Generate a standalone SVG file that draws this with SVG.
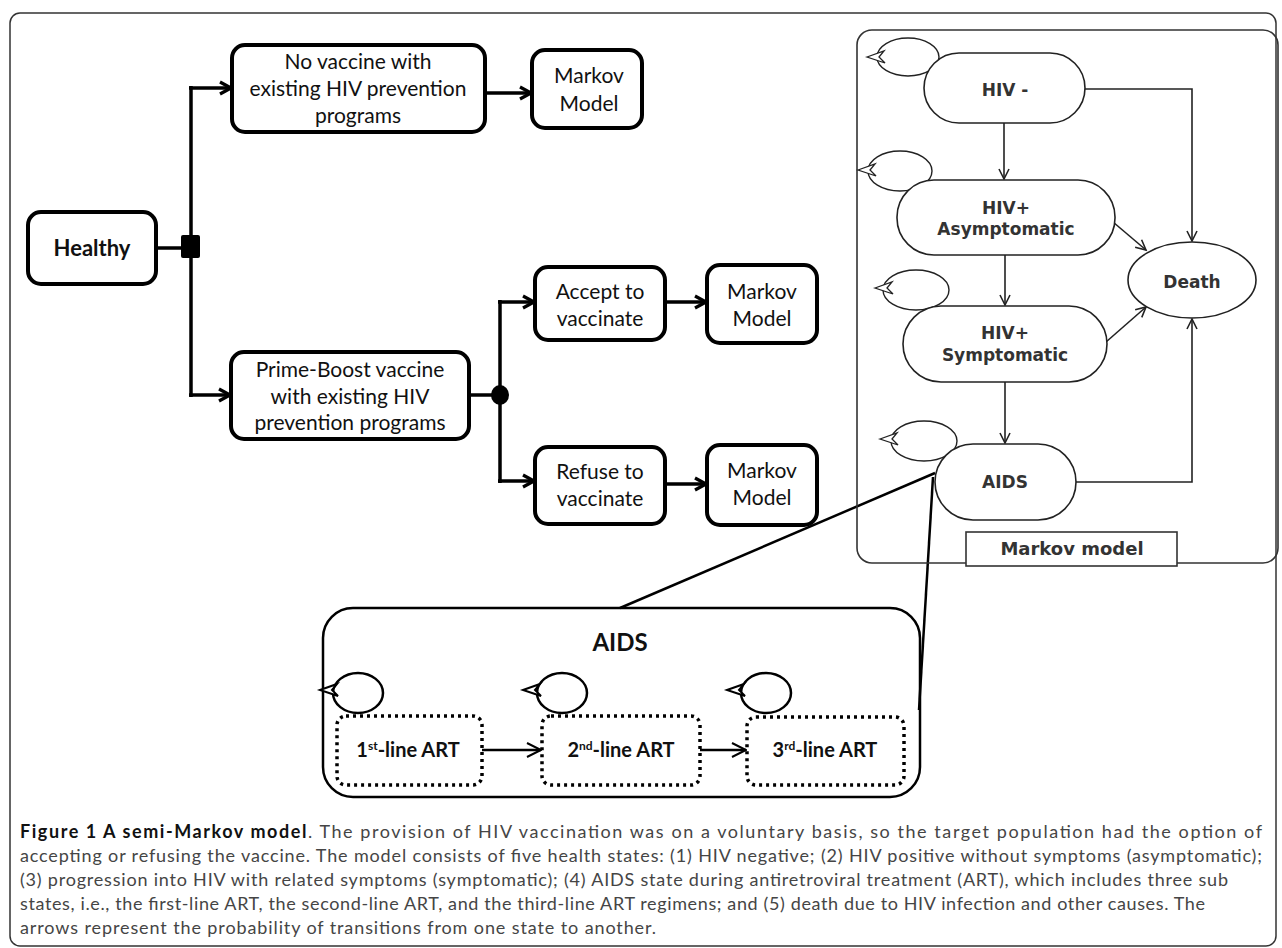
<svg xmlns="http://www.w3.org/2000/svg" width="1282" height="948" viewBox="0 0 1282 948">
<style>
.tb{fill:#fff;stroke:#000;stroke-width:4}
.tt{font-family:Lato,"Liberation Sans",sans-serif;font-size:21px;fill:#111;text-anchor:middle}
.tl{fill:none;stroke:#000;stroke-width:3.5}
.mn{fill:#fff;stroke:#222;stroke-width:1.6}
.mt{font-family:"DejaVu Sans",sans-serif;font-weight:bold;font-size:17px;fill:#333;text-anchor:middle}
.ml{fill:none;stroke:#222;stroke-width:1.6}
.lp{fill:none;stroke:#222;stroke-width:1.4}
.lh{fill:#fff;stroke:#222;stroke-width:1.3}
.sl{fill:none;stroke:#000;stroke-width:2.5}
.sh{fill:#fff;stroke:#000;stroke-width:2}
.db{fill:#fff;stroke:#000;stroke-width:3.5;stroke-dasharray:3 4}
.at{font-family:Lato,"Liberation Sans",sans-serif;font-weight:bold;font-size:20px;fill:#111;text-anchor:middle}
.cap{font-family:Lato,"Liberation Sans",sans-serif;font-size:18px;fill:#454545}
</style>
<defs>
<marker id="aT" markerUnits="userSpaceOnUse" markerWidth="16" markerHeight="18" refX="13" refY="8" orient="auto">
<path d="M2,2 L13,8 L2,14" fill="none" stroke="#000" stroke-width="3.2"/>
</marker>
<marker id="aM" markerUnits="userSpaceOnUse" markerWidth="14" markerHeight="14" refX="11" refY="6" orient="auto">
<path d="M1,1 L11,6 L1,11" fill="none" stroke="#222" stroke-width="1.6"/>
</marker>
<marker id="aS" markerUnits="userSpaceOnUse" markerWidth="18" markerHeight="18" refX="15" refY="8" orient="auto">
<path d="M1,1 L15,8 L1,15" fill="none" stroke="#000" stroke-width="2"/>
</marker>
<path id="lh" d="M0,0 L17,-6 L12,0 L18,6 Z"/>
</defs>
<rect width="1282" height="948" fill="#fff"/>
<rect x="10" y="13" width="1266" height="933" rx="10" fill="none" stroke="#333" stroke-width="1.5"/>

<g id="connectors">
<line class="tl" x1="156" y1="248" x2="182" y2="248"/>
<line class="tl" x1="191" y1="86" x2="191" y2="397"/>
<path class="tl" d="M189,88 H231" marker-end="url(#aT)"/>
<path class="tl" d="M189,395 H230" marker-end="url(#aT)"/>
<path class="tl" d="M485,93 H531" marker-end="url(#aT)"/>
<line class="tl" x1="469" y1="395" x2="500" y2="395"/>
<line class="tl" x1="500" y1="300" x2="500" y2="483"/>
<path class="tl" d="M498,302 H534" marker-end="url(#aT)"/>
<path class="tl" d="M498,481 H534" marker-end="url(#aT)"/>
<path class="tl" d="M665,302 H706" marker-end="url(#aT)"/>
<path class="tl" d="M665,484 H706" marker-end="url(#aT)"/>

<path class="ml" d="M1004,123 V179" marker-end="url(#aM)"/>
<path class="ml" d="M1085,89 H1192 V241" marker-end="url(#aM)"/>
<path class="ml" d="M1005,255 V305" marker-end="url(#aM)"/>
<path class="ml" d="M1113,222 L1146,250" marker-end="url(#aM)"/>
<path class="ml" d="M1106,342 L1146,307" marker-end="url(#aM)"/>
<path class="ml" d="M1005,382 V443" marker-end="url(#aM)"/>
<path class="ml" d="M1076,482 H1192 V319" marker-end="url(#aM)"/>

<line class="sl" x1="935" y1="473" x2="620" y2="608"/>
<line class="sl" x1="933" y1="477" x2="919" y2="710"/>
<path class="sl" d="M482,750 H541" marker-end="url(#aS)"/>
<path class="sl" d="M700,750 H746" marker-end="url(#aS)"/>
</g>

<g id="healthy">
<rect class="tb" x="28" y="212" width="128" height="72" rx="13"/>
<text class="tt" x="92" y="256" style="font-weight:bold;font-size:22px">Healthy</text>
</g>
<g id="chance1"><rect x="181" y="235" width="19" height="23" rx="2" fill="#000"/></g>
<g id="novaccine">
<rect class="tb" x="232" y="45" width="253" height="87" rx="13"/>
<text class="tt" x="358" y="69">No vaccine with</text>
<text class="tt" x="358" y="96">existing HIV prevention</text>
<text class="tt" x="358" y="123">programs</text>
</g>
<g id="markov1">
<rect class="tb" x="532" y="50" width="110" height="78" rx="13"/>
<text class="tt" x="589" y="83">Markov</text>
<text class="tt" x="589" y="111">Model</text>
</g>
<g id="primeboost">
<rect class="tb" x="231" y="352" width="238" height="87" rx="13"/>
<text class="tt" x="350" y="377">Prime-Boost vaccine</text>
<text class="tt" x="350" y="404">with existing HIV</text>
<text class="tt" x="350" y="430">prevention programs</text>
</g>
<g id="chance2"><ellipse cx="500" cy="395" rx="9" ry="10" fill="#000"/></g>
<g id="accept">
<rect class="tb" x="535" y="267" width="130" height="73" rx="13"/>
<text class="tt" x="600" y="299">Accept to</text>
<text class="tt" x="600" y="326">vaccinate</text>
</g>
<g id="markov2">
<rect class="tb" x="707" y="265" width="110" height="78" rx="13"/>
<text class="tt" x="762" y="299">Markov</text>
<text class="tt" x="762" y="326">Model</text>
</g>
<g id="refuse">
<rect class="tb" x="535" y="447" width="130" height="77" rx="13"/>
<text class="tt" x="600" y="479">Refuse to</text>
<text class="tt" x="600" y="506">vaccinate</text>
</g>
<g id="markov3">
<rect class="tb" x="707" y="445" width="110" height="80" rx="13"/>
<text class="tt" x="762" y="478">Markov</text>
<text class="tt" x="762" y="505">Model</text>
</g>

<g id="markov-panel">
<rect x="857" y="30" width="421" height="533" rx="15" fill="none" stroke="#333" stroke-width="1.6"/>
</g>
<g id="markov-label">
<rect x="966" y="532" width="211" height="34" fill="#fff" stroke="#333" stroke-width="1.6"/>
<text class="mt" x="1072" y="555" style="font-size:18px">Markov model</text>
</g>
<g id="hivneg">
<ellipse class="lp" cx="908" cy="57" rx="31" ry="19"/>
<use href="#lh" class="lh" transform="translate(867,57)"/>
<rect class="mn" x="924" y="53" width="161" height="70" rx="35"/>
<text class="mt" x="1005" y="96">HIV -</text>
</g>
<g id="hivasym">
<ellipse class="lp" cx="900" cy="171" rx="32" ry="20"/>
<use href="#lh" class="lh" transform="translate(858,170)"/>
<rect class="mn" x="897" y="180" width="218" height="75" rx="37"/>
<text class="mt" x="1006" y="214">HIV+</text>
<text class="mt" x="1006" y="235">Asymptomatic</text>
</g>
<g id="death">
<ellipse class="mn" cx="1192" cy="280" rx="64" ry="38"/>
<text class="mt" x="1192" y="288">Death</text>
</g>
<g id="hivsym">
<ellipse class="lp" cx="916" cy="290" rx="33" ry="20"/>
<use href="#lh" class="lh" transform="translate(875,288)"/>
<rect class="mn" x="903" y="306" width="204" height="76" rx="38"/>
<text class="mt" x="1005" y="339">HIV+</text>
<text class="mt" x="1005" y="361">Symptomatic</text>
</g>
<g id="aids">
<ellipse class="lp" cx="924" cy="441" rx="33" ry="20"/>
<use href="#lh" class="lh" transform="translate(880,439)"/>
<rect class="mn" x="935" y="444" width="141" height="76" rx="38"/>
<text class="mt" x="1005" y="488">AIDS</text>
</g>

<g id="aids-detail">
<rect x="323" y="608" width="597" height="189" rx="30" fill="none" stroke="#000" stroke-width="2.5"/>
<text x="620" y="651" style="font-family:Lato,'Liberation Sans',sans-serif;font-weight:bold;font-size:24px;fill:#111;text-anchor:middle">AIDS</text>
</g>
<g id="art1">
<ellipse class="sl" cx="358" cy="693" rx="25" ry="20"/>
<use href="#lh" class="sh" transform="translate(320,690)"/>
<rect class="db" x="337" y="716" width="145" height="69" rx="9"/>
<text class="at" x="408" y="757">1<tspan dy="-7" font-size="12">st</tspan><tspan dy="7">-line ART</tspan></text>
</g>
<g id="art2">
<ellipse class="sl" cx="562" cy="693" rx="25" ry="20"/>
<use href="#lh" class="sh" transform="translate(523,690)"/>
<rect class="db" x="542" y="716" width="158" height="69" rx="9"/>
<text class="at" x="621" y="757">2<tspan dy="-7" font-size="12">nd</tspan><tspan dy="7">-line ART</tspan></text>
</g>
<g id="art3">
<ellipse class="sl" cx="766" cy="693" rx="25" ry="20"/>
<use href="#lh" class="sh" transform="translate(727,690)"/>
<rect class="db" x="747" y="717" width="157" height="68" rx="9"/>
<text class="at" x="825" y="757">3<tspan dy="-7" font-size="12">rd</tspan><tspan dy="7">-line ART</tspan></text>
</g>

<g id="caption">
<text class="cap" x="20" y="838" textLength="1242" lengthAdjust="spacing"><tspan font-weight="bold" fill="#111">Figure 1 A semi-Markov model</tspan>. The provision of HIV vaccination was on a voluntary basis, so the target population had the option of</text>
<text class="cap" x="20" y="862" textLength="1242" lengthAdjust="spacing">accepting or refusing the vaccine. The model consists of five health states: (1) HIV negative; (2) HIV positive without symptoms (asymptomatic);</text>
<text class="cap" x="20" y="886" textLength="1208" lengthAdjust="spacing">(3) progression into HIV with related symptoms (symptomatic); (4) AIDS state during antiretroviral treatment (ART), which includes three sub</text>
<text class="cap" x="20" y="910" textLength="1185" lengthAdjust="spacing">states, i.e., the first-line ART, the second-line ART, and the third-line ART regimens; and (5) death due to HIV infection and other causes. The</text>
<text class="cap" x="20" y="934" textLength="636" lengthAdjust="spacing">arrows represent the probability of transitions from one state to another.</text>
</g>
</svg>
